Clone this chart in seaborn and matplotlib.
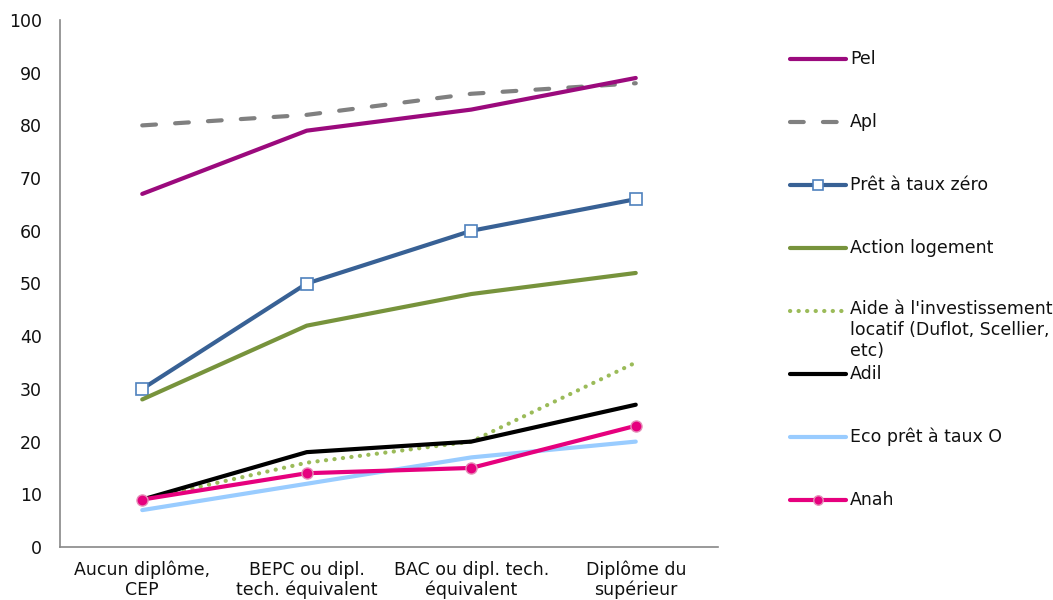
import numpy as np
import pandas as pd
import matplotlib
matplotlib.use('Agg')
import matplotlib.pyplot as plt
import seaborn as sns

# Data
categories = ['Aucun diplôme,\nCEP', 'BEPC ou dipl.\ntech. équivalent',
              'BAC ou dipl. tech.\néquivalent', 'Diplôme du\nsupérieur']
pel = [67, 79, 83, 89]
apl = [80, 82, 86, 88]
ptz = [30, 50, 60, 66]
action_logement = [28, 42, 48, 52]
aide_invest = [9, 16, 20, 35]
adil = [9, 18, 20, 27]
eco_ptz = [7, 12, 17, 20]
anah = [9, 14, 15, 23]

series_names = ['Pel', 'Apl', 'Prêt à taux zéro', 'Action logement',
                "Aide à l'investissement\nlocatif (Duflot, Scellier,\netc)",
                'Adil', 'Eco prêt à taux O', 'Anah']
series_values = [pel, apl, ptz, action_logement, aide_invest, adil, eco_ptz, anah]

sns.set_theme(style='white')
plt.rcParams['font.family'] = ['DejaVu Sans']
plt.rcParams['font.size'] = 12.5
plt.rcParams['xtick.labelsize'] = 12.5
plt.rcParams['ytick.labelsize'] = 12.5

LW = 3.0
styles = [
    dict(color='#9B0A7D', linewidth=LW),
    dict(color='#808080', linewidth=LW, linestyle=(0, (3.3, 4.6)), dash_capstyle='round'),
    dict(color='#386195', linewidth=LW, marker='s', markersize=9,
         markerfacecolor='white', markeredgecolor='#4F81BD', markeredgewidth=1.2),
    dict(color='#77933C', linewidth=LW),
    dict(color='#9BBB59', linewidth=LW, linestyle=(0, (0.05, 2.0)), dash_capstyle='round'),
    dict(color='black', linewidth=LW),
    dict(color='#99CCFF', linewidth=LW),
    dict(color='#E6007E', linewidth=LW, marker='o', markersize=8,
         markerfacecolor='#E6007E', markeredgecolor='#E58FB8', markeredgewidth=1.0),
]
# Pel is drawn over Apl in the original
draw_order = [1, 0, 2, 3, 4, 5, 6, 7]

fig = plt.figure(figsize=(10.53, 6), dpi=100)
ax = fig.add_axes([60 / 1053, 53 / 600, 658 / 1053, 527 / 600])

x = np.arange(len(categories))
for i in draw_order:
    df = pd.DataFrame({'x': x, 'y': series_values[i]})
    sns.lineplot(data=df, x='x', y='y', ax=ax, legend=False, **styles[i])

ax.set_xlim(-0.5, len(categories) - 0.5)
ax.set_ylim(0, 100)
ax.set_yticks(range(0, 101, 10))
ax.set_xticks(x)
ax.set_xticklabels(categories, color='#111111', linespacing=1.1)
ax.set_xticks(np.arange(-0.5, len(categories), 1.0), minor=True)
ax.tick_params(axis='x', which='major', length=0, pad=10)
ax.tick_params(axis='x', which='minor', length=5, color='#888888', width=1)
ax.tick_params(axis='y', length=5, color='#888888', width=1, labelcolor='#111111', pad=8)
ax.set_xlabel('')
ax.set_ylabel('')
for side in ['top', 'right']:
    ax.spines[side].set_visible(False)
for side in ['left', 'bottom']:
    ax.spines[side].set_color('#888888')
    ax.spines[side].set_linewidth(1.2)

# Legend drawn manually to keep the fixed spacing of the original
lax = fig.add_axes([0, 0, 1, 1])
lax.set_xlim(0, 1053)
lax.set_ylim(600, 0)
lax.axis('off')
entry_y = [59, 122, 185, 248, 311, 374, 437, 500]
for name, st, yy in zip(series_names, styles, entry_y):
    st2 = dict(st)
    marker = st2.pop('marker', None)
    st2.pop('markersize', None)
    mfc = st2.pop('markerfacecolor', None)
    mec = st2.pop('markeredgecolor', None)
    mew = st2.pop('markeredgewidth', None)
    lax.plot([790, 846], [yy, yy], **st2)
    if marker:
        lax.plot([818], [yy], marker=marker, markersize=st['markersize'] * 0.85,
                 markerfacecolor=mfc, markeredgecolor=mec, markeredgewidth=mew,
                 linestyle='none')
    if '\n' in name:
        lax.text(850, yy - 11, name, ha='left', va='top', color='#111111',
                 linespacing=1.2)
    else:
        lax.text(850, yy, name, ha='left', va='center', color='#111111')

fig.savefig('out.png', dpi=100)
